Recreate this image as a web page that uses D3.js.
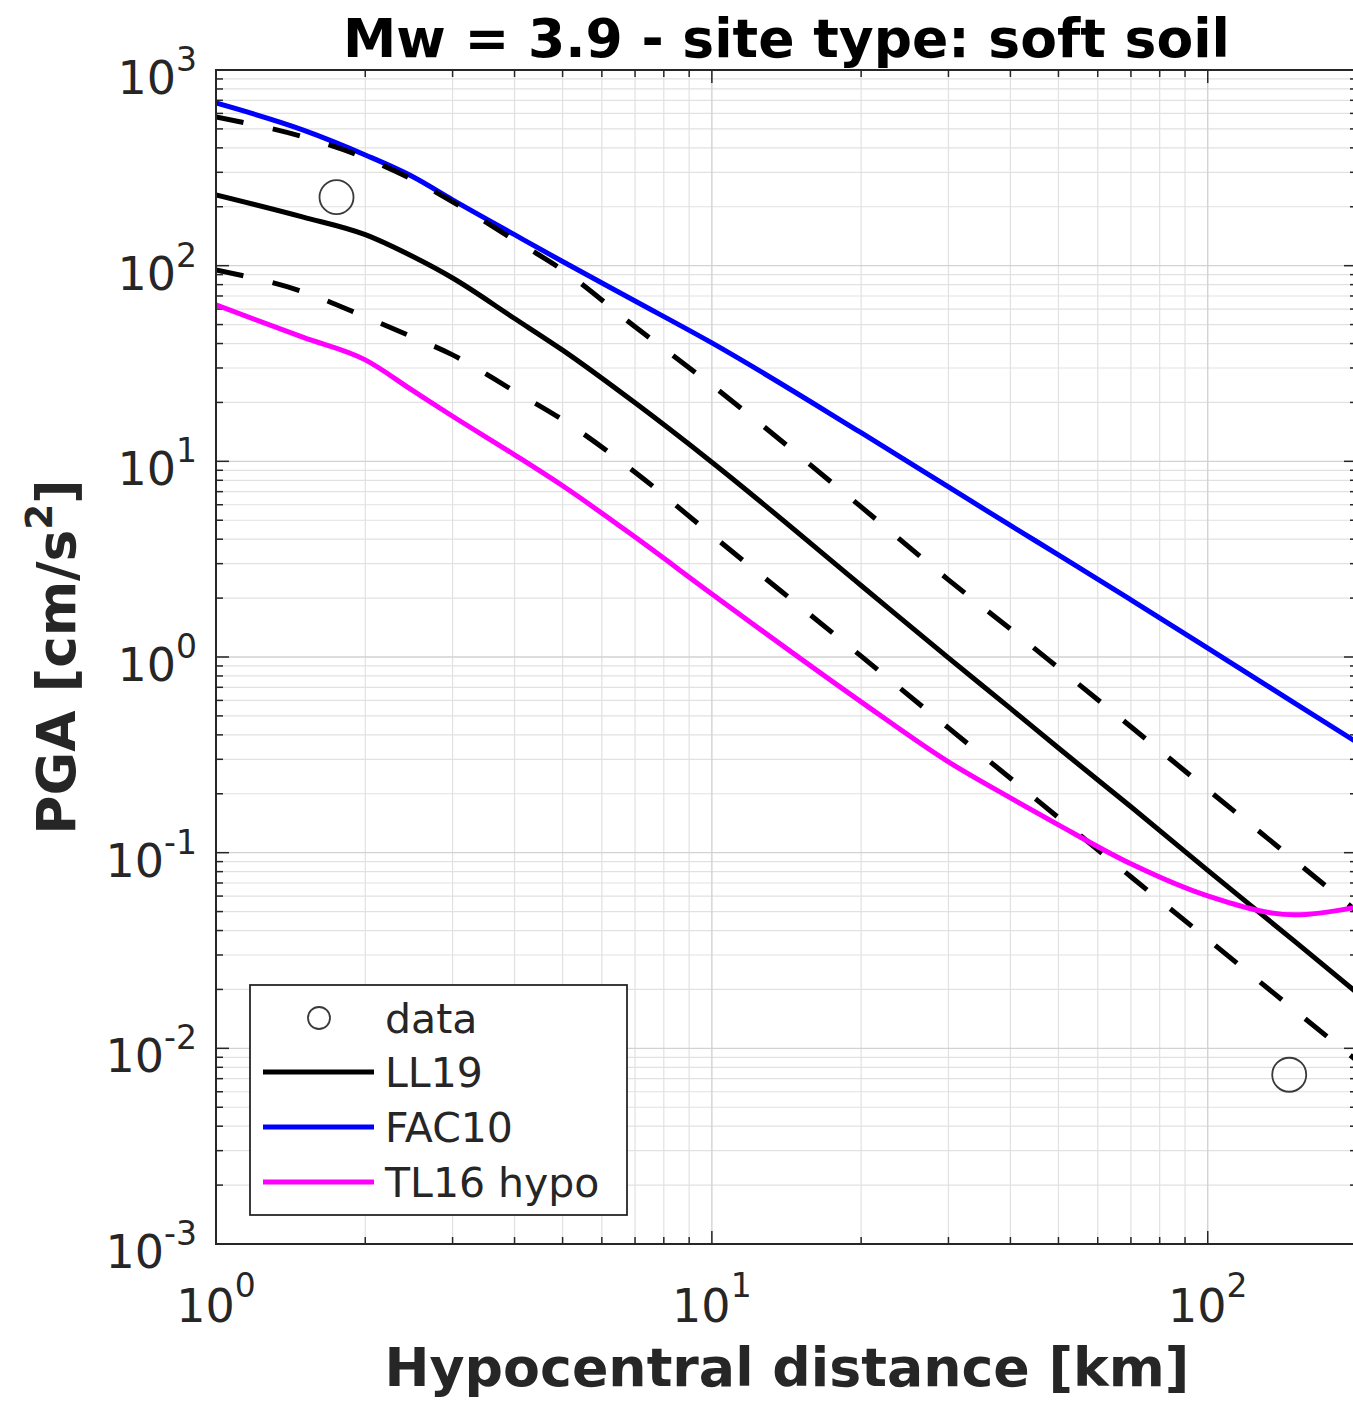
<!DOCTYPE html>
<html>
<head>
<meta charset="utf-8">
<script src="https://cdn.jsdelivr.net/npm/d3@7"></script>
<style>
  html, body { margin: 0; padding: 0; background: #fff; }
  svg { display: block; font-family: "DejaVu Sans", sans-serif; }
</style>
</head>
<body>
<svg id="chart" width="1353" height="1401"></svg>
<script>
// ---------------- data ----------------
const distances = [1, 1.5, 2, 2.5, 3, 4, 5, 7, 10, 20, 30, 40, 50, 70, 100, 150, 200];
const ll19      = [230, 177, 144, 111, 86.5, 53.7, 37, 19.9, 9.9, 2.32, 0.99, 0.546, 0.3425, 0.1716, 0.0812, 0.0351, 0.0192];
const ll19Plus  = [575, 455, 355, 274, 212, 135, 95, 48.7, 24.5, 5.85, 2.48, 1.39, 0.88, 0.44, 0.21, 0.091, 0.050];
const ll19Minus = [95, 73.5, 54.7, 43, 35, 22.8, 16.3, 8.8, 4.2, 1.01, 0.434, 0.240, 0.151, 0.0753, 0.0361, 0.0156, 0.00865];
const fac10     = [678, 493, 368, 284, 217, 144, 105, 66, 40.3, 14.0, 7.4, 4.7, 3.33, 1.96, 1.11, 0.58, 0.366];
const tl16      = [63, 43, 33, 22.9, 17, 10.8, 7.5, 4.1, 2.1, 0.590, 0.291, 0.1905, 0.1387, 0.0877, 0.0601, 0.0481, 0.0528];
const dataDist  = [1.75, 146];
const dataPGA   = [224, 0.00733];

const xTickValues = [1, 10, 100];
const xTickExps   = ["0", "1", "2"];
const yTickValues = [1e-3, 1e-2, 1e-1, 1, 10, 100, 1000];
const yTickExps   = ["-3", "-2", "-1", "0", "1", "2", "3"];

const titleText = "Mw = 3.9 - site type: soft soil";
const xLabelText = "Hypocentral distance [km]";
const legendLabels = ["data", "LL19", "FAC10", "TL16 hypo"];

// ---------------- layout ----------------
const L = 216, R = 1357, T = 70, B = 1244;
const svg = d3.select("#chart");
const x = d3.scaleLog().domain([1, 200]).range([L, R]);
const y = d3.scaleLog().domain([1e-3, 1e3]).range([B, T]);
const axisColor = "#262626";

svg.append("defs").append("clipPath").attr("id", "plotclip")
  .append("rect").attr("x", L).attr("y", T).attr("width", R - L).attr("height", B - T);

svg.append("rect").attr("x", L).attr("y", T).attr("width", R - L).attr("height", B - T).attr("fill", "#fff");

const xMinor = [], xMajor = [];
for (let e = 0; e <= 2; e++) for (let m = 1; m <= 9; m++) {
  const v = m * Math.pow(10, e);
  if (v > 200) continue;
  (m === 1 ? xMajor : xMinor).push(v);
}
const yMinor = [], yMajor = [];
for (let e = -3; e <= 3; e++) for (let m = 1; m <= 9; m++) {
  const v = m * Math.pow(10, e);
  if (v > 1000) continue;
  (m === 1 ? yMajor : yMinor).push(v);
}

const grid = svg.append("g");
grid.selectAll(".xmin").data(xMinor).join("line")
  .attr("x1", d => x(d)).attr("x2", d => x(d)).attr("y1", T).attr("y2", B)
  .attr("stroke", "#e1e1e1").attr("stroke-width", 1.2);
grid.selectAll(".ymin").data(yMinor).join("line")
  .attr("y1", d => y(d)).attr("y2", d => y(d)).attr("x1", L).attr("x2", R)
  .attr("stroke", "#e1e1e1").attr("stroke-width", 1.2);
grid.selectAll(".xmaj").data(xMajor).join("line")
  .attr("x1", d => x(d)).attr("x2", d => x(d)).attr("y1", T).attr("y2", B)
  .attr("stroke", "#d2d2d2").attr("stroke-width", 1.4);
grid.selectAll(".ymaj").data(yMajor).join("line")
  .attr("y1", d => y(d)).attr("y2", d => y(d)).attr("x1", L).attr("x2", R)
  .attr("stroke", "#d2d2d2").attr("stroke-width", 1.4);

const ticks = svg.append("g").attr("stroke", axisColor).attr("stroke-width", 1.5);
const majLen = 13, minLen = 7;
[...xMajor.map(v => [v, majLen]), ...xMinor.map(v => [v, minLen])].forEach(([v, len]) => {
  ticks.append("line").attr("x1", x(v)).attr("x2", x(v)).attr("y1", B).attr("y2", B - len);
  ticks.append("line").attr("x1", x(v)).attr("x2", x(v)).attr("y1", T).attr("y2", T + len);
});
[...yMajor.map(v => [v, majLen]), ...yMinor.map(v => [v, minLen])].forEach(([v, len]) => {
  ticks.append("line").attr("y1", y(v)).attr("y2", y(v)).attr("x1", L).attr("x2", L + len);
  ticks.append("line").attr("y1", y(v)).attr("y2", y(v)).attr("x1", R).attr("x2", R - len);
});

const plot = svg.append("g").attr("clip-path", "url(#plotclip)");
const line = d3.line().x(d => x(d[0])).y(d => y(d[1])).curve(d3.curveMonotoneX);
const series = [
  { vals: fac10, color: "#0000ff", dash: null },
  { vals: ll19Plus, color: "#000", dash: "28 30" },
  { vals: ll19Minus, color: "#000", dash: "28 30" },
  { vals: ll19, color: "#000", dash: null },
  { vals: tl16, color: "#ff00ff", dash: null },
];
series.forEach(s => {
  plot.append("path")
    .datum(distances.map((d, i) => [d, s.vals[i]]))
    .attr("d", line)
    .attr("fill", "none")
    .attr("stroke", s.color)
    .attr("stroke-width", 5)
    .attr("stroke-dasharray", s.dash)
    .attr("stroke-linejoin", "round");
});

plot.selectAll(".pt").data(dataDist.map((d, i) => [d, dataPGA[i]])).join("circle")
  .attr("cx", d => x(d[0])).attr("cy", d => y(d[1])).attr("r", 17)
  .attr("fill", "none").attr("stroke", "#3a3a3a").attr("stroke-width", 1.8);

svg.append("rect").attr("x", L).attr("y", T).attr("width", R - L).attr("height", B - T)
  .attr("fill", "none").attr("stroke", axisColor).attr("stroke-width", 2);

const tickFont = 46, supFont = 33;
xTickValues.forEach((v, i) => {
  const t = svg.append("text").attr("x", x(v)).attr("y", 1322)
    .attr("text-anchor", "middle").attr("fill", axisColor).attr("font-size", tickFont);
  t.append("tspan").text("10");
  t.append("tspan").attr("font-size", supFont).attr("dy", -25).text(xTickExps[i]);
});
yTickValues.forEach((v, i) => {
  const t = svg.append("text").attr("x", 197).attr("y", y(v) + 24)
    .attr("text-anchor", "end").attr("fill", axisColor).attr("font-size", tickFont);
  t.append("tspan").text("10");
  t.append("tspan").attr("font-size", supFont).attr("dy", -23).text(yTickExps[i]);
});

function fitWidth(sel, target) {
  const w = sel.node().getComputedTextLength();
  const fs = parseFloat(sel.attr("font-size"));
  sel.attr("font-size", fs * target / w);
}

const title = svg.append("text").attr("x", (L + R) / 2).attr("y", 57)
  .attr("text-anchor", "middle").attr("font-weight", "bold").attr("font-size", 50)
  .attr("fill", "#000").text(titleText);
fitWidth(title, 887);

const xl = svg.append("text").attr("x", 787).attr("y", 1386)
  .attr("text-anchor", "middle").attr("font-weight", "bold").attr("font-size", 50)
  .attr("fill", axisColor).text(xLabelText);
fitWidth(xl, 805);

const yl = svg.append("text").attr("transform", "translate(75,657) rotate(-90)")
  .attr("text-anchor", "middle").attr("font-weight", "bold").attr("font-size", 50)
  .attr("fill", axisColor);
yl.append("tspan").text("PGA [cm/s");
yl.append("tspan").attr("class", "sup").attr("font-size", 35).attr("dy", -22).text("2");
yl.append("tspan").attr("class", "close").attr("dy", 22).text("]");
(function () {
  const w = yl.node().getComputedTextLength();
  const k = 355 / w;
  yl.attr("font-size", 50 * k);
  yl.select("tspan.sup").attr("font-size", 35 * k).attr("dy", -22 * k);
  yl.select("tspan.close").attr("dy", 22 * k);
})();

const lg = svg.append("g");
lg.append("rect").attr("x", 250).attr("y", 985).attr("width", 377).attr("height", 230)
  .attr("fill", "#fff").attr("stroke", axisColor).attr("stroke-width", 1.8);
const legendY = [1018, 1072, 1127, 1182];
const legendColors = [null, "#000", "#0000ff", "#ff00ff"];
legendLabels.forEach((lab, i) => {
  const yy = legendY[i];
  if (i === 0) {
    lg.append("circle").attr("cx", 319).attr("cy", yy).attr("r", 11)
      .attr("fill", "none").attr("stroke", "#3a3a3a").attr("stroke-width", 1.8);
  } else {
    lg.append("line").attr("x1", 263).attr("x2", 374).attr("y1", yy).attr("y2", yy)
      .attr("stroke", legendColors[i]).attr("stroke-width", 5);
  }
  lg.append("text").attr("x", 385).attr("y", yy + 15).attr("font-size", 41)
    .attr("fill", axisColor).text(lab);
});
</script>
</body>
</html>
